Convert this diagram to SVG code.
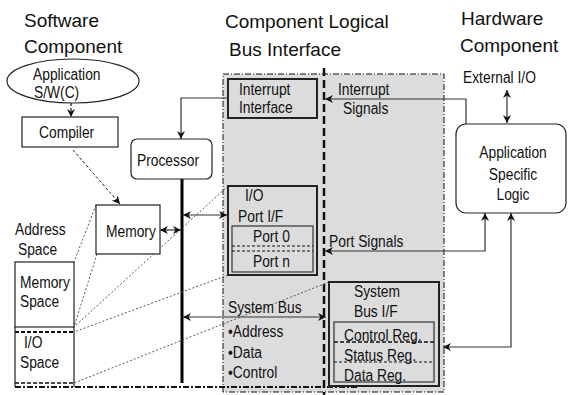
<svg xmlns="http://www.w3.org/2000/svg" width="568" height="395" viewBox="0 0 568 395">
<style>
text{font-family:"Liberation Sans",Arial,sans-serif;font-size:16px;fill:#111}
.title{font-size:19px}
.box{fill:#fff;stroke:#222;stroke-width:1.2}
.gbox{fill:#dcdcdc;stroke:#222;stroke-width:2}
.ibox{fill:#dcdcdc;stroke:#333;stroke-width:1.2}
.ln{fill:none;stroke:#333;stroke-width:1.2}
.dot{fill:none;stroke:#444;stroke-width:0.9;stroke-dasharray:2,2}
.mc{text-anchor:middle}
</style>
<defs>
<marker id="ah" viewBox="0 0 10 10" refX="10" refY="5" markerWidth="8" markerHeight="8" markerUnits="userSpaceOnUse" orient="auto-start-reverse">
<path d="M0,0 L10,5 L0,10 L3,5 Z" fill="#111"/>
</marker>
</defs>
<rect width="568" height="395" fill="#fff"/>

<g id="region">
<rect x="223" y="74" width="221" height="318" fill="#dcdcdc" stroke="#111" stroke-width="1" stroke-dasharray="6,2,1,2"/>
</g>

<g id="titles">
<text class="title" x="24" y="27">Software</text>
<text class="title" x="24" y="53">Component</text>
<text class="title" x="225" y="28">Component Logical</text>
<text class="title" x="229" y="56">Bus Interface</text>
<text class="title" x="461" y="25">Hardware</text>
<text class="title" x="460" y="52">Component</text>
</g>

<g id="connectors">
<line x1="324" y1="68" x2="324" y2="395" stroke="#111" stroke-width="2.5" stroke-dasharray="8,4"/>
<line x1="71" y1="103" x2="71" y2="117" stroke="#111" stroke-width="1.2" stroke-dasharray="3,2" marker-end="url(#ah)"/>
<line x1="73" y1="150" x2="120" y2="204" stroke="#222" stroke-width="1" stroke-dasharray="3,2" marker-end="url(#ah)"/>
<polyline class="ln" points="228,98 181,98 181,139" marker-end="url(#ah)"/>
<polyline class="ln" points="466,124 466,99 325,99" marker-end="url(#ah)"/>
<line x1="507" y1="90" x2="507" y2="123" class="ln" marker-start="url(#ah)" marker-end="url(#ah)"/>
<polyline class="ln" points="485,213 485,251 325,251" marker-start="url(#ah)" marker-end="url(#ah)"/>
<polyline class="ln" points="511,213 511,347 443,347" marker-start="url(#ah)" marker-end="url(#ah)"/>
<line x1="182" y1="179" x2="182" y2="383" stroke="#000" stroke-width="3"/>
<line x1="160" y1="230" x2="181" y2="230" class="ln" marker-start="url(#ah)" marker-end="url(#ah)"/>
<line x1="183" y1="215" x2="227" y2="215" class="ln" marker-start="url(#ah)" marker-end="url(#ah)"/>
<line x1="183" y1="317" x2="326" y2="317" class="ln" marker-start="url(#ah)" marker-end="url(#ah)"/>
<line class="dot" x1="96" y1="205" x2="74" y2="262"/>
<line class="dot" x1="97" y1="254" x2="74" y2="327"/>
<line class="dot" x1="228" y1="186" x2="74" y2="327"/>
<line class="dot" x1="228" y1="275" x2="74" y2="332"/>
<line class="dot" x1="329" y1="282" x2="74" y2="383"/>
<line x1="15" y1="387" x2="357" y2="387" stroke="#111" stroke-width="2" stroke-dasharray="6,2,2,2"/>
</g>

<g id="app-sw">
<ellipse cx="73" cy="81" rx="66" ry="22" fill="#fff" stroke="#222" stroke-width="1.2"/>
<text x="33" y="80" textLength="67.5" lengthAdjust="spacingAndGlyphs">Application</text>
<text x="34" y="98" textLength="45.2" lengthAdjust="spacingAndGlyphs">S/W(C)</text>
</g>

<g id="compiler">
<rect class="box" x="22" y="117" width="96" height="30"/>
<text x="39" y="138" textLength="55.2" lengthAdjust="spacingAndGlyphs">Compiler</text>
</g>

<g id="processor">
<rect class="box" x="131" y="139" width="81" height="40" rx="6"/>
<text x="137" y="166" textLength="62.1" lengthAdjust="spacingAndGlyphs">Processor</text>
</g>

<g id="memory">
<rect class="box" x="96" y="205" width="64" height="49"/>
<text x="106" y="237" textLength="49.8" lengthAdjust="spacingAndGlyphs">Memory</text>
</g>

<g id="address-space">
<text x="15" y="235" textLength="50.6" lengthAdjust="spacingAndGlyphs">Address</text>
<text x="18" y="255" textLength="39.1" lengthAdjust="spacingAndGlyphs">Space</text>
<rect class="box" x="15" y="262" width="59" height="65"/>
<text x="20" y="288" textLength="49.8" lengthAdjust="spacingAndGlyphs">Memory</text>
<text x="20" y="307" textLength="39.1" lengthAdjust="spacingAndGlyphs">Space</text>
<path d="M15,327 V387 M74,327 V387" stroke="#222" stroke-width="1.2" fill="none"/>
<line x1="15" y1="332" x2="74" y2="332" stroke="#111" stroke-width="2" stroke-dasharray="4,2"/>
<line x1="15" y1="383" x2="74" y2="383" stroke="#111" stroke-width="1.5" stroke-dasharray="4,2"/>
<text x="24" y="348" textLength="18.4" lengthAdjust="spacingAndGlyphs">I/O</text>
<text x="20" y="368" textLength="39.1" lengthAdjust="spacingAndGlyphs">Space</text>
</g>

<g id="interrupt-interface">
<rect class="gbox" x="228" y="79" width="89" height="39"/>
<text x="239" y="95" textLength="51.4" lengthAdjust="spacingAndGlyphs">Interrupt</text>
<text x="239" y="113" textLength="53.7" lengthAdjust="spacingAndGlyphs">Interface</text>
</g>

<g id="interrupt-signals">
<text x="338" y="95" textLength="51.4" lengthAdjust="spacingAndGlyphs">Interrupt</text>
<text x="343" y="114" textLength="45.3" lengthAdjust="spacingAndGlyphs">Signals</text>
</g>

<g id="io-port">
<rect class="gbox" x="228" y="186" width="89" height="89"/>
<text x="245" y="201" textLength="18.4" lengthAdjust="spacingAndGlyphs">I/O</text>
<text x="238" y="222" textLength="45.3" lengthAdjust="spacingAndGlyphs">Port I/F</text>
<rect class="ibox" x="232" y="226" width="81" height="46"/>
<line x1="232" y1="246" x2="313" y2="246" stroke="#111" stroke-width="1" stroke-dasharray="3,2"/>
<line x1="232" y1="251" x2="313" y2="251" stroke="#111" stroke-width="1" stroke-dasharray="3,2"/>
<text x="253" y="242" textLength="36.8" lengthAdjust="spacingAndGlyphs">Port 0</text>
<text x="253" y="267" textLength="36.8" lengthAdjust="spacingAndGlyphs">Port n</text>
</g>

<g id="port-signals">
<text x="329" y="247" textLength="74.4" lengthAdjust="spacingAndGlyphs">Port Signals</text>
</g>

<g id="system-bus">
<text x="228" y="313" textLength="73.6" lengthAdjust="spacingAndGlyphs">System Bus</text>
<text x="228" y="337" textLength="55.4" lengthAdjust="spacingAndGlyphs">•Address</text>
<text x="228" y="358" textLength="34" lengthAdjust="spacingAndGlyphs">•Data</text>
<text x="228" y="378" textLength="49.3" lengthAdjust="spacingAndGlyphs">•Control</text>
</g>

<g id="system-bus-if">
<rect class="gbox" x="329" y="282" width="110" height="104"/>
<text x="354" y="297" textLength="46" lengthAdjust="spacingAndGlyphs">System</text>
<text x="354" y="317" textLength="43.7" lengthAdjust="spacingAndGlyphs">Bus I/F</text>
<rect class="ibox" x="334" y="322" width="100" height="60"/>
<line x1="334" y1="342" x2="434" y2="342" stroke="#111" stroke-width="1.6" stroke-dasharray="4,2"/>
<line x1="334" y1="362" x2="434" y2="362" stroke="#111" stroke-width="1" stroke-dasharray="3,2"/>
<text x="344" y="341" textLength="77.5" lengthAdjust="spacingAndGlyphs">Control Reg.</text>
<text x="344" y="361" textLength="72.1" lengthAdjust="spacingAndGlyphs">Status Reg.</text>
<text x="344" y="381" textLength="62.1" lengthAdjust="spacingAndGlyphs">Data Reg.</text>
</g>

<g id="external-io">
<text x="463" y="83" textLength="72.9" lengthAdjust="spacingAndGlyphs">External I/O</text>
</g>

<g id="asl">
<rect class="box" x="456" y="124" width="110" height="89" rx="10"/>
<text class="mc" x="513" y="158" textLength="67.5" lengthAdjust="spacingAndGlyphs">Application</text>
<text class="mc" x="513" y="180" textLength="48.3" lengthAdjust="spacingAndGlyphs">Specific</text>
<text class="mc" x="513" y="200" textLength="33" lengthAdjust="spacingAndGlyphs">Logic</text>
</g>
</svg>
